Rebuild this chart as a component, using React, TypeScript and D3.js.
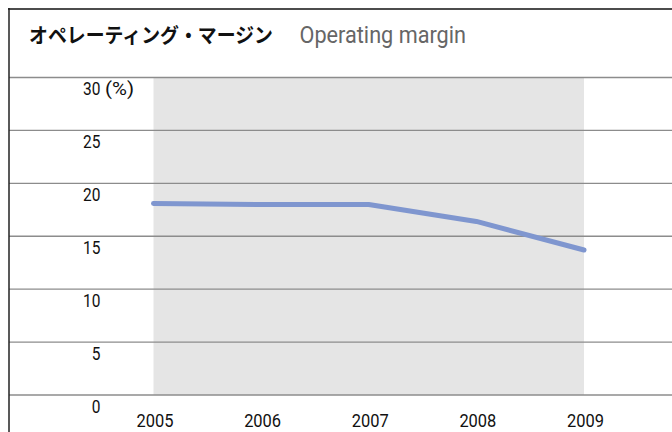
import React from "react";
import * as d3 from "d3";

const years = ["2005", "2006", "2007", "2008", "2009"];
const margin = [18.1, 18.0, 18.0, 16.4, 13.7];
const yTicks = [0, 5, 10, 15, 20, 25, 30];
const titleJa = "オペレーティング・マージン";
const titleEn = "Operating margin";

export default function App() {
  const W = 672, H = 432;
  const x = d3.scalePoint<string>().domain(years).range([153.5, 584]);
  const y = d3.scaleLinear().domain([0, 30]).range([395, 77.5]);
  const line = d3
    .line<number>()
    .x((_, i) => x(years[i]) as number)
    .y((d) => y(d))
    .curve(d3.curveLinear);
  const font = "Roboto, 'Liberation Sans', sans-serif";
  const fs = 18.5;
  const dw = 8.7;
  return (
    <svg
      width={W}
      height={H}
      style={{ position: "absolute", left: 0, top: 0, background: "#fff" }}
    >
      <rect x={x(years[0])} y={y(30)} width={(x(years[4]) as number) - (x(years[0]) as number)} height={y(0) - y(30)} fill="#e5e5e5" />
      {yTicks.map((t) => (
        <line key={t} x1={9} x2={W} y1={y(t)} y2={y(t)} stroke="#8c8c8c" strokeWidth={1.3} />
      ))}
      <line x1={8} x2={W} y1={9} y2={9} stroke="#111" strokeWidth={1.6} />
      <line x1={9} x2={9} y1={8} y2={H} stroke="#222" strokeWidth={1.5} />
      <text x={29} y={42.5} fontFamily="'Noto Sans CJK JP', sans-serif" fontWeight={700} fontSize={20.5} fill="#111" textLength={244} lengthAdjust="spacingAndGlyphs">
        {titleJa}
      </text>
      <text x={299.5} y={43} fontFamily={font} fontSize={23} fill="#666" textLength={166.5} lengthAdjust="spacingAndGlyphs">
        {titleEn}
      </text>
      {yTicks.map((t) => (
        <text key={t} x={100.5} y={y(t) + 17.8} textAnchor="end" fontFamily={font} fontSize={fs} fill="#111" textLength={String(t).length * dw} lengthAdjust="spacingAndGlyphs">
          {t}
        </text>
      ))}
      <text x={105} y={y(30) + 17.8} fontFamily={font} fontSize={fs} fill="#111" textLength={29} lengthAdjust="spacingAndGlyphs">(%)</text>
      {years.map((yr) => (
        <text key={yr} x={(x(yr) as number) + 1.5} y={427} textAnchor="middle" fontFamily={font} fontSize={fs} fill="#111" textLength={37} lengthAdjust="spacingAndGlyphs">
          {yr}
        </text>
      ))}
      <path d={line(margin) || ""} fill="none" stroke="#7f96cf" strokeWidth={5} strokeLinecap="round" strokeLinejoin="round" />
    </svg>
  );
}
